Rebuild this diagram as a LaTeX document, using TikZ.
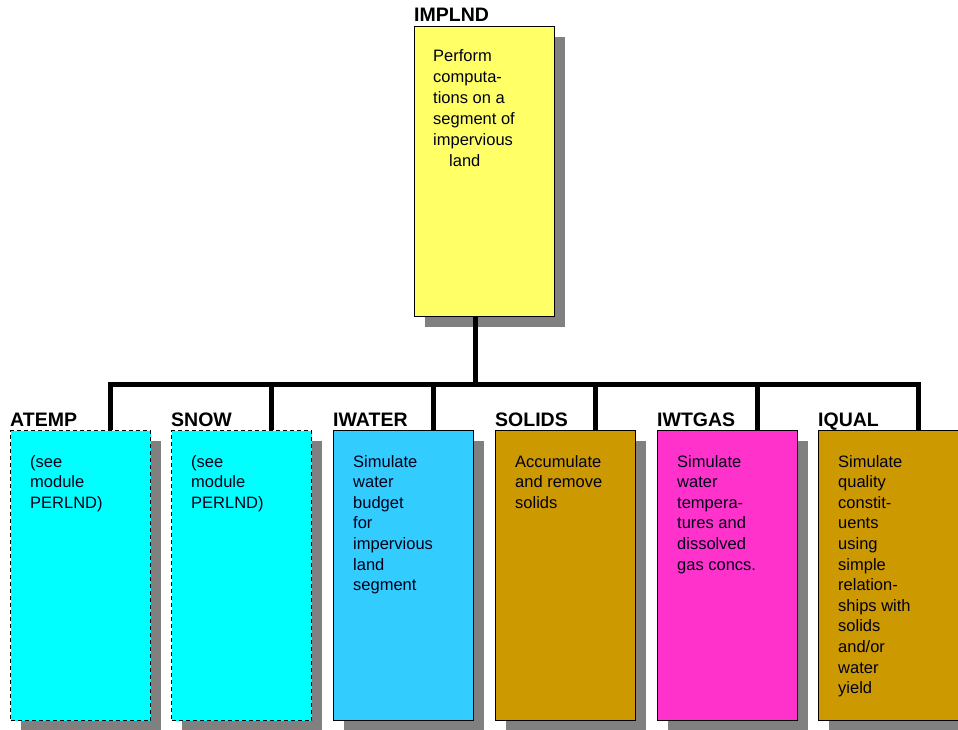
\documentclass[tikz,border=0pt]{standalone}
\usepackage{fontspec}
\setmainfont{Liberation Sans}
% fixed height of the first text line in a box
\newcommand\firststrut{\rule{0pt}{13pt}}
\begin{document}
\begin{tikzpicture}[x=1pt,y=1pt,
  modbox/.style={draw=black,line width=1.4pt,minimum width=140pt,minimum height=290pt,
    inner sep=0pt,anchor=north west},
  refbox/.style={modbox,dashed,line width=1.3pt,dash pattern=on 4pt off 3pt},
  shadowbox/.style={fill=shadowgray,draw=none},
  title/.style={font=\bfseries\fontsize{19.5}{22}\selectfont,anchor=base west,inner sep=0pt},
  body/.style={font=\fontsize{16.5}{20.6}\selectfont,align=left,anchor=north west,inner sep=0pt,
    text=black!90!blue},
  bus/.style={line width=5pt,draw=black,line join=miter}]
\definecolor{shadowgray}{HTML}{808080}
\definecolor{implyellow}{HTML}{FFFF66}
\definecolor{refcyan}{HTML}{00FFFF}
\definecolor{waterblue}{HTML}{33CCFF}
\definecolor{ochre}{HTML}{CC9900}
\definecolor{gaspink}{HTML}{FF33CC}
\useasboundingbox (0,0) rectangle (958,730);
\fill[white] (0,0) rectangle (958,730);

% top-level module
\fill[shadowbox] (425,693) rectangle (565,403);
\node[modbox,fill=implyellow] (implnd) at (414,704) {};
\node[title] (implnd-t) at ([yshift=4pt]implnd.north west) {IMPLND};
\node[body,font=\fontsize{16.5}{21}\selectfont] (implnd-b) at ([xshift=19pt,yshift=-22pt]implnd.north west)
  {\firststrut Perform\\computa-\\tions on a\\segment of\\impervious\\\hspace*{16pt}land};

% shadows of the sections
\foreach \x in {10,171,333,495,657,818}
  \fill[shadowbox] (\x+11,289) rectangle (\x+151,-2);

% sections
\node[refbox,fill=refcyan] (atemp) at (10,300) {};
\node[refbox,fill=refcyan] (snow) at (171,300) {};
\node[modbox,fill=waterblue] (iwater) at (333,300) {};
\node[modbox,fill=ochre] (solids) at (495,300) {};
\node[modbox,fill=gaspink] (iwtgas) at (657,300) {};
\node[modbox,fill=ochre] (iqual) at (818,300) {};

\foreach \n/\t in {atemp/ATEMP,snow/SNOW,iwater/IWATER,solids/SOLIDS,iwtgas/IWTGAS,iqual/IQUAL}
  \node[title] (\n-t) at ([yshift=3pt]\n.north west) {\t};

\node[body] (atemp-b) at ([xshift=20pt,yshift=-24pt]atemp.north west) {\firststrut(see\\module\\PERLND)};
\node[body] (snow-b) at ([xshift=20pt,yshift=-24pt]snow.north west) {\firststrut(see\\module\\PERLND)};
\node[body] (iwater-b) at ([xshift=20pt,yshift=-24pt]iwater.north west)
  {\firststrut Simulate\\water\\budget\\for\\impervious\\land\\segment};
\node[body] (solids-b) at ([xshift=20pt,yshift=-24pt]solids.north west)
  {\firststrut Accumulate\\and remove\\solids};
\node[body] (iwtgas-b) at ([xshift=20pt,yshift=-24pt]iwtgas.north west)
  {\firststrut Simulate\\water\\tempera-\\tures and\\dissolved\\gas concs.};
\node[body] (iqual-b) at ([xshift=20pt,yshift=-24pt]iqual.north west)
  {\firststrut Simulate\\quality\\constit-\\uents\\using\\simple\\relation-\\ships with\\solids\\and/or\\water\\yield};

% tree connectors
\coordinate (bus) at (0,345);
\foreach \n in {atemp,snow,iwater,solids,iwtgas,iqual}
  \coordinate (\n-in) at ([xshift=100pt]\n.north west);
\coordinate (implnd-out) at ([xshift=-9pt]implnd.south);
\draw[bus] (atemp-in) -- (atemp-in |- bus) -- (iqual-in |- bus) -- (iqual-in);
\draw[bus] (implnd-out) -- (implnd-out |- bus);
\foreach \n in {snow,iwater,solids,iwtgas}
  \draw[bus] (\n-in |- bus) -- (\n-in);
\end{tikzpicture}
\end{document}
